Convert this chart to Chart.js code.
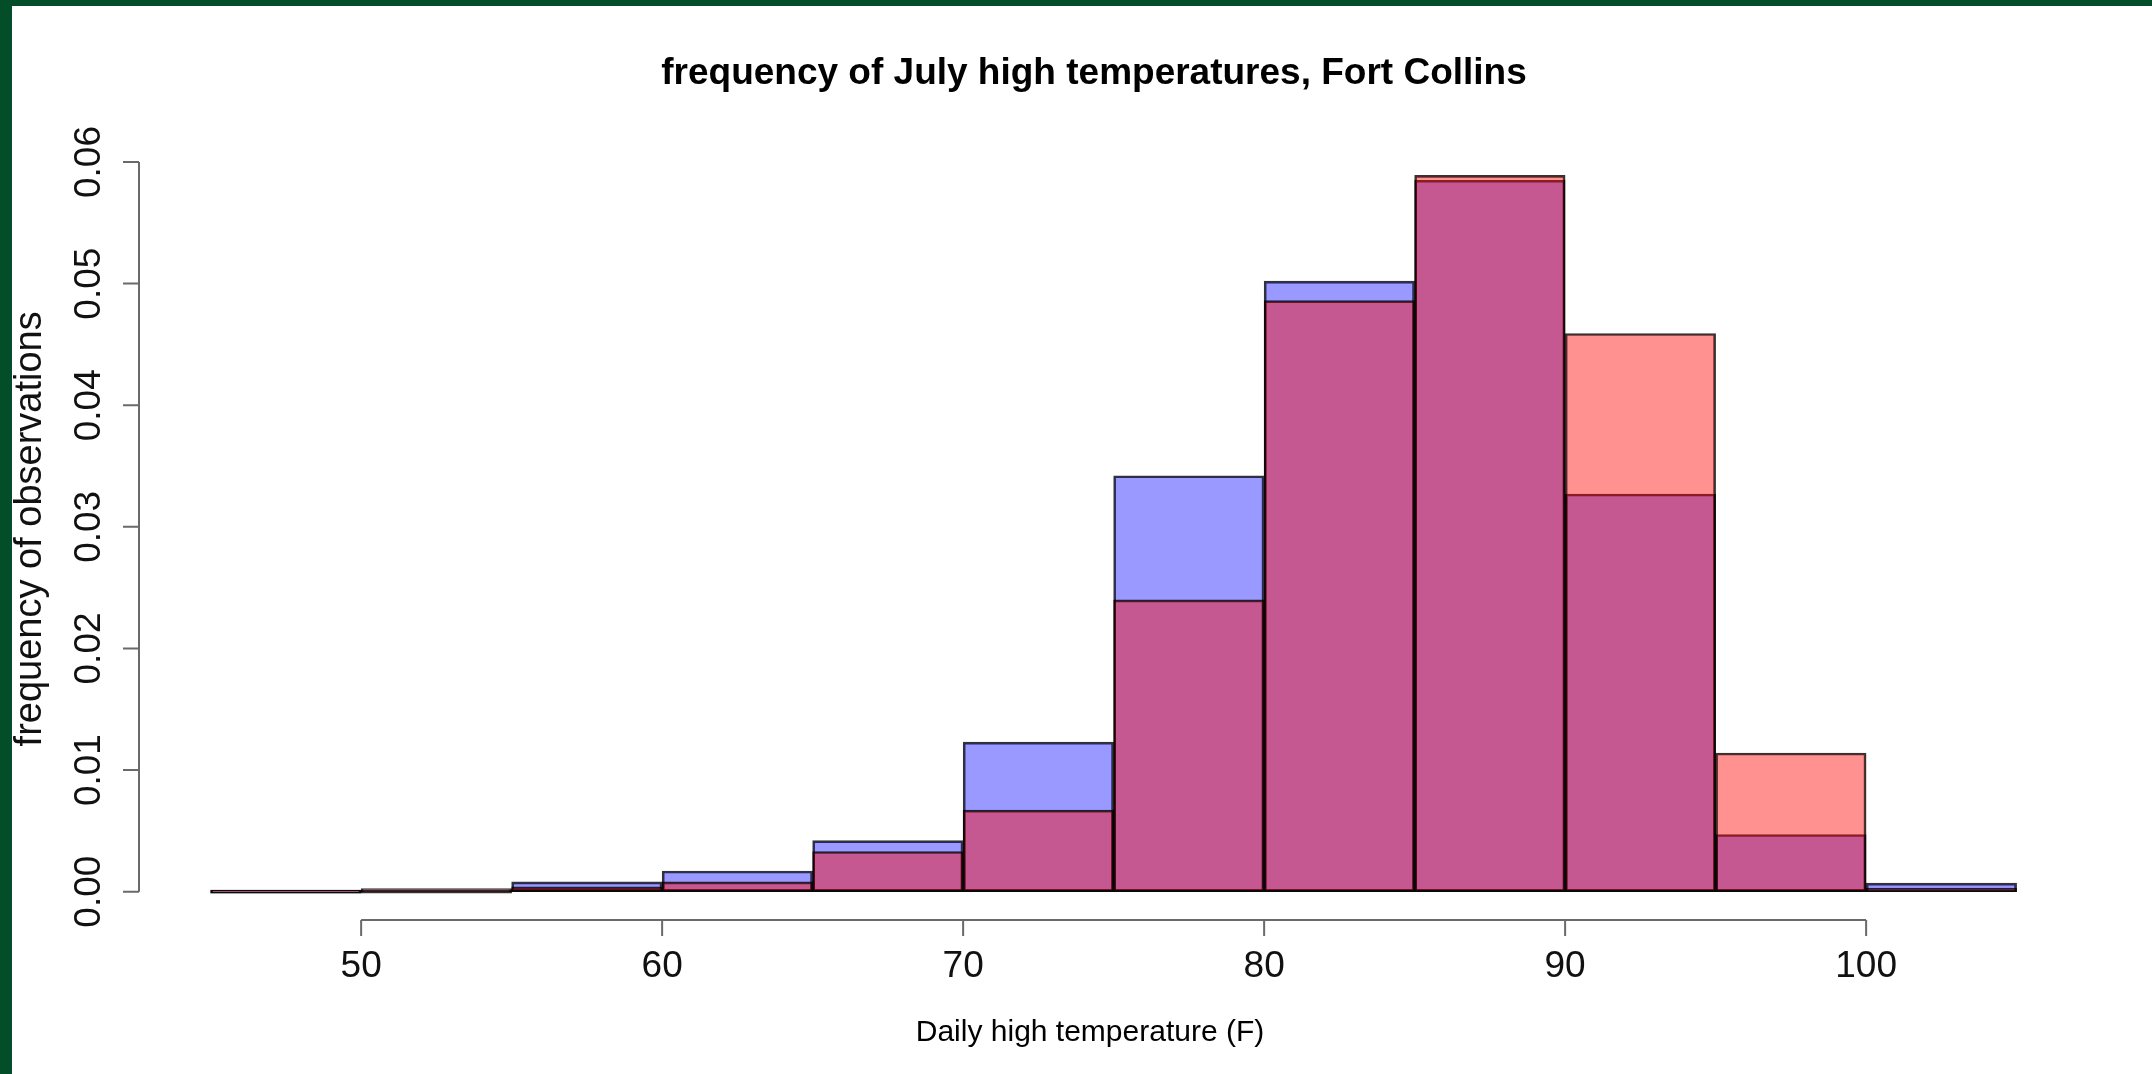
<!DOCTYPE html>
<html>
<head>
<meta charset="utf-8">
<title>frequency of July high temperatures, Fort Collins</title>
<script src="https://cdn.jsdelivr.net/npm/chart.js@4.4.1/dist/chart.umd.min.js"></script>
<style>
  html, body { margin: 0; padding: 0; background: #fff; overflow: hidden; }
  canvas { display: block; background: #fff; }
</style>
</head>
<body>
<canvas id="myChart" width="2152" height="1074"></canvas>
<script>
    // histogram bins (F), 5 degrees wide
    const binStarts = [45, 50, 55, 60, 65, 70, 75, 80, 85, 90, 95, 100]
    const binWidth = 5
    // density of observations per bin
    const blueFreq = [0, 0, 0.0008, 0.0017, 0.0042, 0.0123, 0.0342, 0.0502, 0.0585, 0.0327, 0.0047, 0.0007]
    const redFreq  = [0, 0.0001, 0.0004, 0.0008, 0.0033, 0.0067, 0.0240, 0.0486, 0.0589, 0.0459, 0.0114, 0.0003]
    // axis ticks
    const xTicks = [50, 60, 70, 80, 90, 100]
    const yTicks = [0, 0.01, 0.02, 0.03, 0.04, 0.05, 0.06]
    const yTickLabels = ['0.00', '0.01', '0.02', '0.03', '0.04', '0.05', '0.06']

    const font = '"Liberation Sans", Arial, Helvetica, sans-serif'

    function toPoints(values) {
        return values.map((v, i) => ({ x: binStarts[i] + binWidth / 2, y: v }))
    }

    // R style axes: lines only from first to last tick, rotated y labels
    const rAxes = {
        id: 'rAxes',
        afterDatasetsDraw(chart) {
            const { ctx, chartArea, scales: { x, y } } = chart
            const yb = chartArea.bottom
            const xl = chartArea.left
            ctx.save()
            ctx.strokeStyle = '#6a6a6a'
            ctx.lineWidth = 2
            ctx.beginPath()
            ctx.moveTo(x.getPixelForValue(xTicks[0]), yb)
            ctx.lineTo(x.getPixelForValue(xTicks[xTicks.length - 1]), yb)
            xTicks.forEach(t => {
                const px = x.getPixelForValue(t)
                ctx.moveTo(px, yb)
                ctx.lineTo(px, yb + 16)
            })
            ctx.moveTo(xl, y.getPixelForValue(yTicks[0]))
            ctx.lineTo(xl, y.getPixelForValue(yTicks[yTicks.length - 1]))
            yTicks.forEach(t => {
                const py = y.getPixelForValue(t)
                ctx.moveTo(xl, py)
                ctx.lineTo(xl - 16, py)
            })
            ctx.stroke()

            ctx.fillStyle = '#111'
            ctx.font = '37px ' + font
            ctx.textAlign = 'center'
            ctx.textBaseline = 'alphabetic'
            xTicks.forEach(t => ctx.fillText(String(t), x.getPixelForValue(t), yb + 57))
            yTicks.forEach((t, i) => {
                ctx.save()
                ctx.translate(xl - 39, y.getPixelForValue(t))
                ctx.rotate(-Math.PI / 2)
                ctx.fillText(yTickLabels[i], 0, 0)
                ctx.restore()
            })

            // y axis title
            ctx.font = '38px ' + font
            ctx.save()
            const mid = (y.getPixelForValue(yTicks[0]) + y.getPixelForValue(yTicks[yTicks.length - 1])) / 2
            ctx.translate(41, mid + 2)
            ctx.rotate(-Math.PI / 2)
            ctx.fillText('frequency of observations', 0, 0)
            ctx.restore()
            ctx.restore()
        },
        afterDraw(chart) {
            // dark green page frame on left and top
            const ctx = chart.ctx
            ctx.save()
            ctx.fillStyle = '#044d29'
            ctx.fillRect(0, 0, 12, chart.height)
            ctx.fillRect(0, 0, chart.width, 6)
            ctx.restore()
        }
    }

    var ctx = document.getElementById('myChart').getContext('2d')
    var myChart = new Chart(ctx, {
        type: 'bar',
        data: {
            datasets: [{
                label: 'red',
                data: toPoints(redFreq),
                backgroundColor: 'rgba(255, 0, 0, 0.43)',
                borderColor: 'rgba(0, 0, 0, 0.8)',
                order: 1
            }, {
                label: 'blue',
                data: toPoints(blueFreq),
                backgroundColor: 'rgba(0, 0, 255, 0.4)',
                borderColor: 'rgba(0, 0, 0, 0.8)',
                order: 2
            }]
        },
        options: {
            responsive: false,
            animation: false,
            devicePixelRatio: 1,
            grouped: false,
            barPercentage: 1,
            categoryPercentage: 1,
            borderWidth: 2,
            borderSkipped: false,
            minBarLength: 3,
            layout: { padding: { left: 139, right: 103, top: 0, bottom: 0 } },
            plugins: {
                legend: { display: false },
                tooltip: { enabled: false },
                title: {
                    display: true,
                    text: 'frequency of July high temperatures, Fort Collins',
                    color: '#000',
                    font: { family: font, size: 37, weight: 'bold' },
                    padding: { top: 52, bottom: 52.6 }
                }
            },
            scales: {
                x: {
                    type: 'linear',
                    offset: false,
                    min: 42.62,
                    max: 105.81,
                    grid: { display: false },
                    border: { display: false },
                    ticks: { display: false },
                    title: {
                        display: true,
                        text: 'Daily high temperature (F)',
                        color: '#000',
                        font: { family: font, size: 30 },
                        padding: { top: 0, bottom: 23 }
                    },
                    afterFit(scale) { scale.height = 154 }
                },
                y: {
                    position: 'right',
                    min: -0.00233,
                    max: 0.06107,
                    grid: { display: false },
                    border: { display: false },
                    ticks: { display: false },
                    afterFit(scale) { scale.width = 8 }
                }
            }
        },
        plugins: [rAxes]
    })
</script>
</body>
</html>
